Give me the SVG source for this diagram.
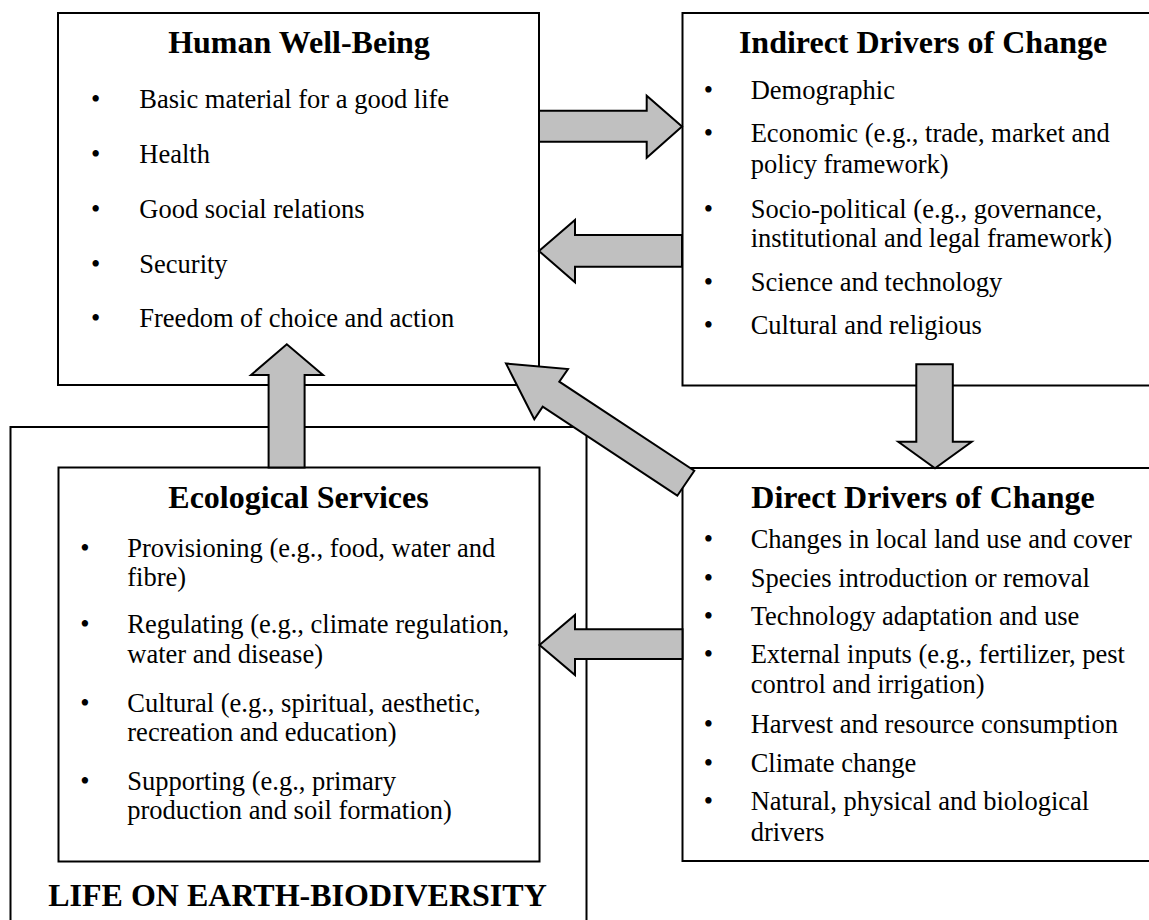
<svg xmlns="http://www.w3.org/2000/svg" width="1149" height="920" viewBox="0 0 1149 920">
<style>
.box{fill:#fff;stroke:#000;stroke-width:2}
.arr{fill:#c0c0c0;stroke:#000;stroke-width:2;stroke-linejoin:miter}
text{font-family:"Liberation Serif","Times New Roman",serif;fill:#000}
.t{font-size:32px;font-weight:bold;text-anchor:middle}
.b{font-size:26.5px}
.d{font-size:26.5px;text-anchor:middle}
</style>
<rect width="1149" height="920" fill="#fff"/>
<g id="life-on-earth">
<rect class="box" x="10.5" y="427" width="576" height="520"/>
<text class="t" x="297.5" y="906">LIFE ON EARTH-BIODIVERSITY</text>
</g>
<g id="ecological-services">
<rect class="box" x="58.5" y="467.5" width="481" height="394"/>
<text class="t" x="298.5" y="508.3">Ecological Services</text>
<text class="d" x="85" y="556.7">•</text><text class="b" x="127.3" y="556.7">Provisioning (e.g., food, water and</text>
<text class="b" x="127.3" y="586">fibre)</text>
<text class="d" x="85" y="633.3">•</text><text class="b" x="127.3" y="633.3">Regulating (e.g., climate regulation,</text>
<text class="b" x="127.3" y="663">water and disease)</text>
<text class="d" x="85" y="711.7">•</text><text class="b" x="127.3" y="711.7">Cultural (e.g., spiritual, aesthetic,</text>
<text class="b" x="127.3" y="741.3">recreation and education)</text>
<text class="d" x="85" y="790">•</text><text class="b" x="127.3" y="790">Supporting (e.g., primary</text>
<text class="b" x="127.3" y="819">production and soil formation)</text>
</g>
<g id="human-well-being">
<rect class="box" x="58" y="13" width="481" height="372"/>
<text class="t" x="299" y="52.7">Human Well-Being</text>
<text class="d" x="95.7" y="108.3">•</text><text class="b" x="139.3" y="108.3">Basic material for a good life</text>
<text class="d" x="95.7" y="163.3">•</text><text class="b" x="139.3" y="163.3">Health</text>
<text class="d" x="95.7" y="218.3">•</text><text class="b" x="139.3" y="218.3">Good social relations</text>
<text class="d" x="95.7" y="273.3">•</text><text class="b" x="139.3" y="273.3">Security</text>
<text class="d" x="95.7" y="327">•</text><text class="b" x="139.3" y="327">Freedom of choice and action</text>
</g>
<g id="indirect-drivers">
<rect class="box" x="682.5" y="13" width="500" height="372.5"/>
<text class="t" x="923" y="52.7">Indirect Drivers of Change</text>
<text class="d" x="708.3" y="99">•</text><text class="b" x="750.7" y="99">Demographic</text>
<text class="d" x="708.3" y="142">•</text><text class="b" x="750.7" y="142">Economic (e.g., trade, market and</text>
<text class="b" x="750.7" y="173">policy framework)</text>
<text class="d" x="708.3" y="218">•</text><text class="b" x="750.7" y="218">Socio-political (e.g., governance,</text>
<text class="b" x="750.7" y="247">institutional and legal framework)</text>
<text class="d" x="708.3" y="291">•</text><text class="b" x="750.7" y="291">Science and technology</text>
<text class="d" x="708.3" y="334">•</text><text class="b" x="750.7" y="334">Cultural and religious</text>
</g>
<g id="direct-drivers">
<rect class="box" x="682.5" y="468" width="500" height="393"/>
<text class="t" x="923" y="508">Direct Drivers of Change</text>
<text class="d" x="708.3" y="548">•</text><text class="b" x="750.7" y="548">Changes in local land use and cover</text>
<text class="d" x="708.3" y="586.7">•</text><text class="b" x="750.7" y="586.7">Species introduction or removal</text>
<text class="d" x="708.3" y="625">•</text><text class="b" x="750.7" y="625">Technology adaptation and use</text>
<text class="d" x="708.3" y="663">•</text><text class="b" x="750.7" y="663">External inputs (e.g., fertilizer, pest</text>
<text class="b" x="750.7" y="693">control and irrigation)</text>
<text class="d" x="708.3" y="733">•</text><text class="b" x="750.7" y="733">Harvest and resource consumption</text>
<text class="d" x="708.3" y="771.7">•</text><text class="b" x="750.7" y="771.7">Climate change</text>
<text class="d" x="708.3" y="810">•</text><text class="b" x="750.7" y="810">Natural, physical and biological</text>
<text class="b" x="750.7" y="840.5">drivers</text>
</g>
<g id="connectors">
<polygon class="arr" points="539,110.7 646.7,110.7 646.7,95.7 682,126.5 646.7,157.7 646.7,141.7 539,141.7"/>
<polygon class="arr" points="682,235 575,235 575,220 539,251 575,282.3 575,266.7 682,266.7"/>
<polygon class="arr" points="682.5,629.3 575,629.3 575,615 539.5,645 575,675 575,659 682.5,659"/>
<polygon class="arr" points="268.6,467.5 268.6,375 251,375 286.8,344.3 323,375 304.6,375 304.6,467.5"/>
<polygon class="arr" points="916.3,364.3 952.8,364.3 952.8,441.7 971.7,441.7 935,468.3 898.3,441.7 916.3,441.7"/>
<polygon class="arr" points="506,363.5 568,369 559.3,381.7 694.3,470.7 677.3,495.7 542.7,406.7 534.3,419.2"/>
</g>
</svg>
